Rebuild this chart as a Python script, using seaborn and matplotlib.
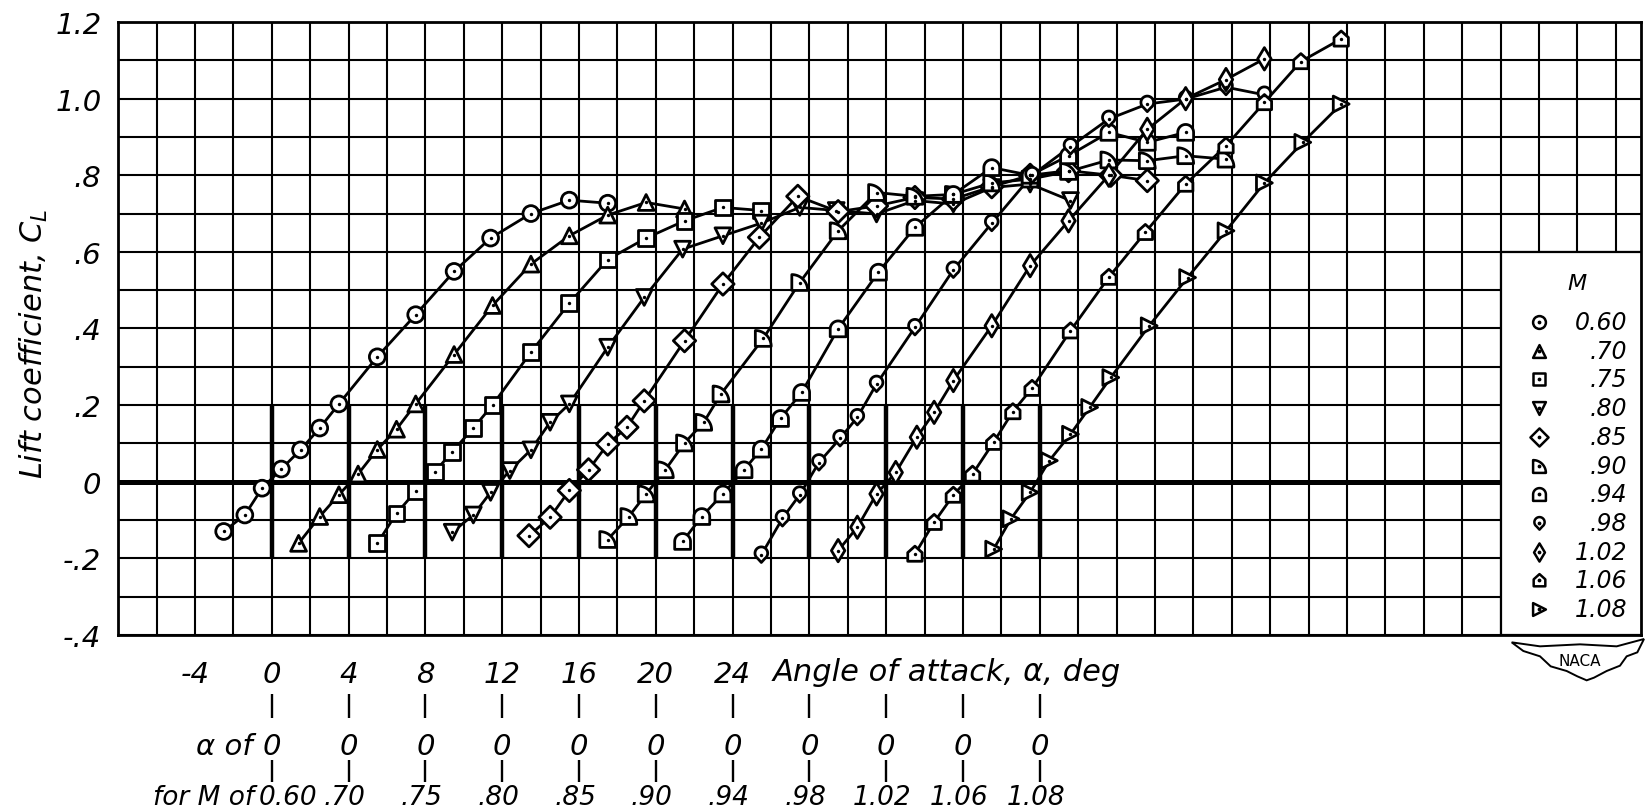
import numpy as np
import pandas as pd
import matplotlib
matplotlib.use('Agg')
import matplotlib.pyplot as plt
from matplotlib.path import Path
from matplotlib.patches import Rectangle, Polygon
import seaborn as sns

# Mach numbers and the angle shift used for each curve (alpha = 0 lines)
mach_labels = ['0.60', '.70', '.75', '.80', '.85', '.90', '.94', '.98', '1.02', '1.06', '1.08']
zero_shift = [0, 4, 8, 12, 16, 20, 24, 28, 32, 36, 40]

# true angle of attack (deg) and lift coefficient
m060_alpha = [-2.5, -1.4, -0.5, 0.5, 1.5, 2.5, 3.5, 5.5, 7.5, 9.5, 11.4, 13.5, 15.5, 17.5]
m060_cl = [-0.130, -0.087, -0.017, 0.033, 0.083, 0.140, 0.203, 0.326, 0.436, 0.549, 0.636, 0.700, 0.735, 0.727]

m070_alpha = [-2.6, -1.5, -0.5, 0.5, 1.5, 2.5, 3.5, 5.5, 7.5, 9.5, 11.5, 13.5, 15.5, 17.5]
m070_cl = [-0.161, -0.091, -0.034, 0.020, 0.084, 0.137, 0.203, 0.332, 0.460, 0.568, 0.642, 0.696, 0.729, 0.712]

m075_alpha = [-2.5, -1.5, -0.5, 0.5, 1.4, 2.5, 3.5, 5.5, 7.5, 9.5, 11.5, 13.5, 15.5, 17.5]
m075_cl = [-0.161, -0.083, -0.025, 0.026, 0.078, 0.140, 0.200, 0.338, 0.466, 0.580, 0.636, 0.681, 0.716, 0.708]

m080_alpha = [-2.6, -1.5, -0.6, 0.4, 1.5, 2.5, 3.5, 5.5, 7.4, 9.4, 11.5, 13.5, 15.5, 17.4, 19.5, 21.5, 23.5, 25.5, 27.5, 29.6]
m080_cl = [-0.132, -0.087, -0.028, 0.029, 0.083, 0.155, 0.203, 0.351, 0.481, 0.607, 0.642, 0.675, 0.716, 0.708, 0.699, 0.734, 0.725, 0.768, 0.777, 0.734]

m085_alpha = [-2.6, -1.5, -0.5, 0.5, 1.5, 2.5, 3.4, 5.5, 7.5, 9.4, 11.4, 13.5, 15.5, 17.5, 19.5, 21.5, 23.5, 25.5, 27.7, 29.6]
m085_cl = [-0.141, -0.093, -0.023, 0.031, 0.098, 0.142, 0.211, 0.368, 0.516, 0.638, 0.745, 0.705, 0.720, 0.742, 0.738, 0.770, 0.800, 0.812, 0.800, 0.786]

m090_alpha = [-2.5, -1.4, -0.5, 0.5, 1.5, 2.5, 3.4, 5.6, 7.5, 9.5, 11.5, 13.5, 15.5, 17.5, 19.5, 21.5, 23.6, 25.6, 27.6, 29.7]
m090_cl = [-0.151, -0.091, -0.032, 0.031, 0.101, 0.155, 0.229, 0.374, 0.520, 0.655, 0.755, 0.745, 0.750, 0.780, 0.790, 0.810, 0.840, 0.838, 0.851, 0.842]

m094_alpha = [-2.6, -1.6, -0.5, 0.6, 1.5, 2.5, 3.6, 5.5, 7.6, 9.5, 11.5, 13.5, 15.5, 17.5, 19.6, 21.6, 23.6]
m094_cl = [-0.156, -0.091, -0.032, 0.031, 0.085, 0.165, 0.233, 0.399, 0.547, 0.664, 0.750, 0.820, 0.800, 0.851, 0.912, 0.886, 0.912]

m098_alpha = [-2.5, -1.4, -0.5, 0.5, 1.6, 2.5, 3.5, 5.5, 7.5, 9.5, 11.6, 13.6, 15.6, 17.6, 19.6, 21.7, 23.7]
m098_cl = [-0.191, -0.096, -0.034, 0.050, 0.113, 0.168, 0.255, 0.403, 0.553, 0.675, 0.800, 0.875, 0.947, 0.986, 0.999, 1.030, 1.010]

m102_alpha = [-2.5, -1.5, -0.5, 0.5, 1.6, 2.5, 3.5, 5.5, 7.5, 9.5, 11.6, 13.6, 15.6, 17.7, 19.7]
m102_cl = [-0.180, -0.119, -0.032, 0.024, 0.116, 0.181, 0.264, 0.407, 0.564, 0.681, 0.800, 0.920, 1.000, 1.050, 1.104]

m106_alpha = [-2.5, -1.5, -0.5, 0.5, 1.6, 2.6, 3.6, 5.6, 7.6, 9.5, 11.6, 13.7, 15.7, 17.6, 19.7]
m106_cl = [-0.189, -0.106, -0.035, 0.020, 0.103, 0.183, 0.244, 0.394, 0.534, 0.651, 0.777, 0.877, 0.990, 1.097, 1.156]

m108_alpha = [-2.4, -1.5, -0.5, 0.5, 1.6, 2.6, 3.7, 5.7, 7.7, 9.7, 11.7, 13.7, 15.7]
m108_cl = [-0.176, -0.097, -0.028, 0.055, 0.124, 0.194, 0.272, 0.407, 0.533, 0.655, 0.780, 0.886, 0.986]

alphas = [m060_alpha, m070_alpha, m075_alpha, m080_alpha, m085_alpha, m090_alpha,
          m094_alpha, m098_alpha, m102_alpha, m106_alpha, m108_alpha]
cls = [m060_cl, m070_cl, m075_cl, m080_cl, m085_cl, m090_cl,
       m094_cl, m098_cl, m102_cl, m106_cl, m108_cl]

x_ticks = [-4, 0, 4, 8, 12, 16, 20, 24]
y_ticks = [1.2, 1.0, 0.8, 0.6, 0.4, 0.2, 0, -0.2, -0.4]
y_ticklabels = ['1.2', '1.0', '.8', '.6', '.4', '.2', '0', '-.2', '-.4']

rows = []
for lab, sh, a, c in zip(mach_labels, zero_shift, alphas, cls):
    for ai, ci in zip(a, c):
        rows.append({'mach': lab, 'x': ai + sh, 'cl': ci})
df = pd.DataFrame(rows)


# custom marker shapes
def arc(cx, cy, r, a0, a1, n=20):
    t = np.radians(np.linspace(a0, a1, n))
    return list(zip(cx + r * np.cos(t), cy + r * np.sin(t)))


quarter = Path([(-1, -1)] + arc(-1, -1, 2, 90, 0) + [(-1, -1)], closed=True)
dome = Path([(-1, -1), (1, -1)] + arc(0, 0, 1, 0, 180) + [(-1, -1)], closed=True)
drop_pts = arc(0, 0.25, 1, -55, 235, 30)
drop = Path(drop_pts + [(0, -1.2), drop_pts[0]], closed=True)
house = Path([(-1, -1), (1, -1), (1, 0.2), (0, 1.1), (-1, 0.2), (-1, -1)], closed=True)
marker_list = ['o', '^', 's', 'v', 'D', quarter, dome, drop, 'd', house, '>']
marker_map = dict(zip(mach_labels, marker_list))

sns.set_style('white')
plt.rcParams['font.family'] = ['DejaVu Sans']
plt.rcParams['font.style'] = 'italic'
plt.rcParams['mathtext.fontset'] = 'dejavusans'
for key in ['text.color', 'axes.labelcolor', 'xtick.color', 'ytick.color']:
    plt.rcParams[key] = 'black'

fig = plt.figure(figsize=(16.46, 8.12), dpi=100)
ax = fig.add_axes([0.07175, 0.2169, 0.92505, 0.7547])

# grid of squares
ax.set_xlim(-8, 71.3)
ax.set_ylim(-0.4, 1.2)
ax.set_xticks(np.arange(-8, 72, 2), minor=True)
ax.set_yticks(np.arange(-0.4, 1.21, 0.1), minor=True)
ax.set_xticks(x_ticks)
ax.set_xticklabels([str(t) for t in x_ticks])
ax.set_yticks(y_ticks)
ax.set_yticklabels(y_ticklabels)
ax.grid(which='both', color='black', linewidth=1.5)
ax.set_axisbelow(True)
ax.tick_params(which='both', length=0, labelsize=21)
ax.tick_params(axis='x', pad=18)
ax.tick_params(axis='y', pad=12)
for s in ax.spines.values():
    s.set_color('black')
    s.set_linewidth(2.0)

ax.axhline(0, color='black', linewidth=3.6, zorder=0.8)
ax.vlines(zero_shift, -0.2, 0.2, color='black', linewidth=3.2, zorder=0.9)

# white box for the key
ax.add_patch(Rectangle((64, -0.4), 8, 1.0, facecolor='white', edgecolor='black',
                       linewidth=1.6, zorder=1))

# curves
sns.lineplot(data=df, x='x', y='cl', units='mach', estimator=None, sort=False,
             color='black', linewidth=2.0, legend=False, ax=ax, zorder=2)
sns.scatterplot(data=df, x='x', y='cl', style='mach', markers=marker_map,
                style_order=mach_labels, color='white', edgecolor='black',
                linewidth=2.0, s=130, legend=False, ax=ax, zorder=3)
sns.scatterplot(data=df, x='x', y='cl', color='black', s=6, linewidth=0,
                legend=False, ax=ax, zorder=4)

ax.set_xlabel('')
ax.set_ylabel('Lift coefficient, $C_L$', fontsize=22)
ax.yaxis.set_label_coords(-0.045, 0.476)

# key
ax.text(68.0, 0.52, 'M', ha='center', va='center', fontsize=16, zorder=5)
for i, (lab, mk) in enumerate(zip(mach_labels, marker_list)):
    yy = 0.417 - 0.075 * i
    ax.scatter([66.0], [yy], marker=mk, s=85, facecolor='white', edgecolor='black',
               linewidth=1.8, zorder=5)
    ax.scatter([66.0], [yy], s=3, color='black', zorder=6)
    ax.text(70.6, yy, lab, ha='right', va='center', fontsize=17, zorder=5)

# labels below the axis
trans = ax.get_xaxis_transform()
ax.text(26.1, -0.060, 'Angle of attack, α, deg', ha='left', va='center',
        fontsize=22, transform=trans)
ax.vlines(zero_shift, -0.136, -0.096, color='black', linewidth=1.7,
          transform=trans, clip_on=False)
ax.vlines(zero_shift, -0.240, -0.204, color='black', linewidth=1.7,
          transform=trans, clip_on=False)
ax.text(-1.0, -0.181, 'α of', ha='right', va='center', fontsize=21, transform=trans)
ax.text(-0.9, -0.264, 'for M of', ha='right', va='center', fontsize=19, transform=trans)
for i, (sh, lab) in enumerate(zip(zero_shift, mach_labels)):
    ax.text(sh, -0.181, '0', ha='center', va='center', fontsize=21, transform=trans)
    if i == 0:
        ax.text(-0.7, -0.264, lab, ha='left', va='center', fontsize=19, transform=trans)
    else:
        ax.text(sh - 0.2, -0.264, lab, ha='center', va='center', fontsize=19,
                transform=trans)

# NACA badge
W, H = 1646.0, 812.0
badge = [(215, 160), (300, 172), (420, 166), (530, 172), (612, 150), (592, 190),
         (560, 202), (540, 230), (500, 246), (462, 266), (440, 274), (412, 262),
         (380, 246), (332, 232), (300, 202), (250, 186)]
badge = [((1440 + bx / 3) / W, 1 - (590 + by / 3) / H) for bx, by in badge]
fig.add_artist(Polygon(badge, closed=True, facecolor='white', edgecolor='black',
                       linewidth=1.4, transform=fig.transFigure))
fig.text(1580 / W, 1 - 661 / H, 'NACA', ha='center', va='center', fontsize=11,
         style='normal')

fig.savefig('out.png', dpi=100)
